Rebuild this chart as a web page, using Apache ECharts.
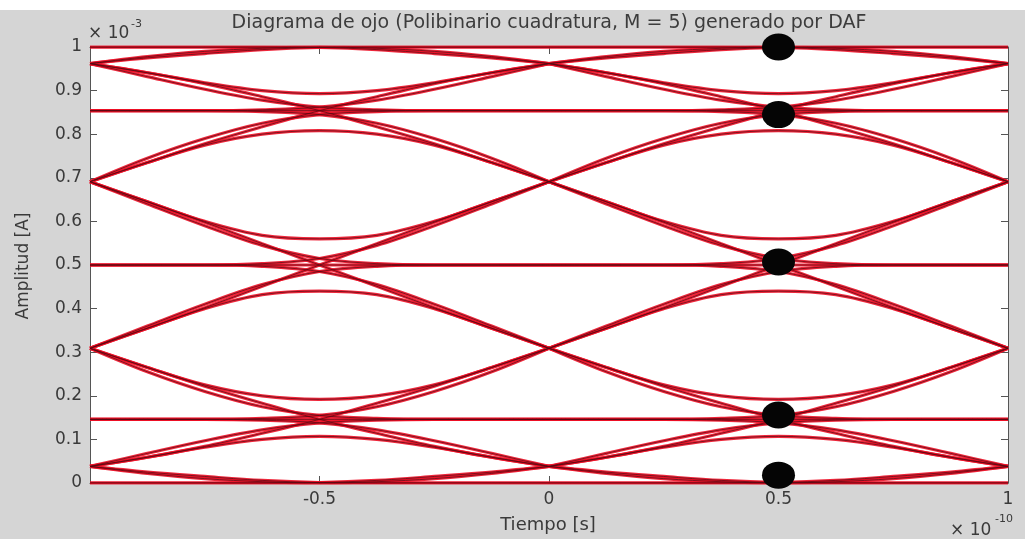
<!DOCTYPE html>
<html>
<head>
<meta charset="utf-8">
<script src="https://cdn.jsdelivr.net/npm/echarts@6/dist/echarts.min.js"></script>
<style>
html,body{margin:0;padding:0;background:#d5d5d5;}
#chart{width:1025px;height:539px;}
</style>
</head>
<body>
<div id="chart"></div>
<script>
// ---- sampling instants (x, in units of 1e-10 s) and offsets of read points inside one symbol window
const sampleTimes = [-0.5, 0.5];
const windowOffsets = [-0.5, -0.375, -0.25, -0.125, 0, 0.125, 0.25, 0.375, 0.5];

// ---- trace shapes read from the eye (amplitude in units of 1e-3 A), one symbol window each
// level 1.0
const lv100Flat  = [1, 1, 1, 1, 1, 1, 1, 1, 1];
const lv100Arc   = [0.962, 0.978, 0.990, 0.997, 1.000, 0.997, 0.990, 0.978, 0.962];
const lv100FallR = [1, 1, 1, 1, 0.999, 0.994, 0.985, 0.975, 0.962];
const lv100RiseL = [0.962, 0.975, 0.985, 0.994, 0.999, 1, 1, 1, 1];
// level 0.85
const lv085Flat     = [0.854, 0.854, 0.854, 0.854, 0.854, 0.854, 0.854, 0.854, 0.854];
const lv085Down     = [0.962, 0.941, 0.916, 0.886, 0.854, 0.817, 0.778, 0.735, 0.691];
const lv085Up       = [0.691, 0.735, 0.778, 0.817, 0.854, 0.886, 0.916, 0.941, 0.962];
const lv085Dome     = [0.691, 0.735, 0.775, 0.800, 0.808, 0.800, 0.775, 0.735, 0.691];
const lv085Bowl     = [0.962, 0.941, 0.918, 0.900, 0.893, 0.900, 0.918, 0.941, 0.962];
const lv085FlatDown = [0.854, 0.854, 0.854, 0.852, 0.845, 0.825, 0.790, 0.745, 0.691];
const lv085FlatUp   = [0.854, 0.854, 0.854, 0.856, 0.862, 0.878, 0.903, 0.932, 0.962];
const lv085DownFlat = [0.962, 0.932, 0.903, 0.878, 0.862, 0.856, 0.854, 0.854, 0.854];
const lv085UpFlat   = [0.691, 0.745, 0.790, 0.825, 0.845, 0.852, 0.854, 0.854, 0.854];
// level 0.5
const lv050Flat     = [0.5, 0.5, 0.5, 0.5, 0.5, 0.5, 0.5, 0.5, 0.5];
const lv050Down     = [0.691, 0.645, 0.598, 0.549, 0.500, 0.451, 0.402, 0.355, 0.309];
const lv050Up       = [0.309, 0.355, 0.402, 0.451, 0.500, 0.549, 0.598, 0.645, 0.691];
const lv050Bowl     = [0.691, 0.645, 0.600, 0.568, 0.560, 0.568, 0.600, 0.645, 0.691];
const lv050Dome     = [0.309, 0.355, 0.400, 0.432, 0.440, 0.432, 0.400, 0.355, 0.309];
const lv050FlatUp   = [0.5, 0.5, 0.5, 0.503, 0.515, 0.545, 0.590, 0.640, 0.691];
const lv050FlatDown = [0.5, 0.5, 0.5, 0.497, 0.485, 0.455, 0.410, 0.360, 0.309];
const lv050DownFlat = [0.691, 0.640, 0.590, 0.545, 0.515, 0.503, 0.5, 0.5, 0.5];
const lv050UpFlat   = [0.309, 0.360, 0.410, 0.455, 0.485, 0.497, 0.5, 0.5, 0.5];
// level 0.15
const lv015Flat     = [0.146, 0.146, 0.146, 0.146, 0.146, 0.146, 0.146, 0.146, 0.146];
const lv015Down     = [0.309, 0.265, 0.222, 0.183, 0.146, 0.114, 0.084, 0.059, 0.038];
const lv015Up       = [0.038, 0.059, 0.084, 0.114, 0.146, 0.183, 0.222, 0.265, 0.309];
const lv015Bowl     = [0.309, 0.265, 0.225, 0.200, 0.192, 0.200, 0.225, 0.265, 0.309];
const lv015Dome     = [0.038, 0.059, 0.082, 0.100, 0.107, 0.100, 0.082, 0.059, 0.038];
const lv015FlatDown = [0.146, 0.146, 0.146, 0.144, 0.138, 0.122, 0.097, 0.068, 0.038];
const lv015FlatUp   = [0.146, 0.146, 0.146, 0.148, 0.155, 0.175, 0.210, 0.255, 0.309];
const lv015DownFlat = [0.309, 0.255, 0.210, 0.175, 0.155, 0.148, 0.146, 0.146, 0.146];
const lv015UpFlat   = [0.038, 0.068, 0.097, 0.122, 0.138, 0.144, 0.146, 0.146, 0.146];
// level 0
const lv000Flat  = [0, 0, 0, 0, 0, 0, 0, 0, 0];
const lv000Arc   = [0.038, 0.022, 0.010, 0.003, 0.000, 0.003, 0.010, 0.022, 0.038];
const lv000RiseR = [0, 0, 0, 0, 0.001, 0.006, 0.015, 0.025, 0.038];
const lv000FallL = [0.038, 0.025, 0.015, 0.006, 0.001, 0, 0, 0, 0];

const traceShapes = [
  lv100Flat, lv100Arc, lv100FallR, lv100RiseL,
  lv085Flat, lv085Down, lv085Up, lv085Dome, lv085Bowl, lv085FlatDown, lv085FlatUp, lv085DownFlat, lv085UpFlat,
  lv050Flat, lv050Down, lv050Up, lv050Bowl, lv050Dome, lv050FlatUp, lv050FlatDown, lv050DownFlat, lv050UpFlat,
  lv015Flat, lv015Down, lv015Up, lv015Bowl, lv015Dome, lv015FlatDown, lv015FlatUp, lv015DownFlat, lv015UpFlat,
  lv000Flat, lv000Arc, lv000RiseR, lv000FallL
];

// ---- sampling markers (black dots at t = 0.5e-10 s)
const markerTimes  = [0.5, 0.5, 0.5, 0.5, 0.5];
const markerValues = [1.0, 0.845, 0.507, 0.156, 0.018];

// ---- tick labels
const xTickValues = [-1, -0.5, 0, 0.5, 1];
const yTickValues = [0, 0.1, 0.2, 0.3, 0.4, 0.5, 0.6, 0.7, 0.8, 0.9, 1];

const FONT = 'DejaVu Sans';
const chart = echarts.init(document.getElementById('chart'), null, {renderer: 'canvas'});

const series = [];
traceShapes.forEach(function (shape) {
  sampleTimes.forEach(function (s) {
    const data = windowOffsets.map(function (o, i) { return [s + o, shape[i]]; });
    series.push({
      type: 'line', data: data, smooth: 0.35, symbol: 'none', z: 2, silent: true,
      lineStyle: {color: '#ec1026', width: 3.2, opacity: 0.9}
    });
    series.push({
      type: 'line', data: data, smooth: 0.35, symbol: 'none', z: 3, silent: true,
      lineStyle: {color: '#540a12', width: 0.8, opacity: 0.9}
    });
  });
});
series.push({
  type: 'scatter', z: 6, clip: false, silent: true,
  data: markerTimes.map(function (t, i) { return [t, markerValues[i]]; }),
  symbol: 'circle', symbolSize: [33, 27],
  itemStyle: {color: '#050505', opacity: 1}
});

const axisLineStyle = {color: '#555555', width: 1};
const labelStyle = {color: '#3a3a3a', fontSize: 17, fontFamily: FONT};

chart.setOption({
  animation: false,
  backgroundColor: '#d5d5d5',
  grid: {left: 90, right: 17, top: 47, bottom: 56, show: true, backgroundColor: '#ffffff', borderWidth: 0},
  xAxis: [{
    type: 'value', min: -1, max: 1, interval: 0.5, position: 'bottom',
    axisLine: {show: true, onZero: false, lineStyle: axisLineStyle},
    axisTick: {show: true, inside: true, length: 7, lineStyle: axisLineStyle},
    splitLine: {show: false},
    axisLabel: Object.assign({margin: 8, formatter: function (v) {
      if (v === xTickValues[0]) return '';
      return String(v);
    }}, labelStyle)
  }, {
    type: 'value', min: -1, max: 1, interval: 0.5, position: 'top',
    axisLine: {show: true, onZero: false, lineStyle: axisLineStyle},
    axisTick: {show: true, inside: true, length: 7, lineStyle: axisLineStyle},
    splitLine: {show: false}, axisLabel: {show: false}
  }],
  yAxis: [{
    type: 'value', min: 0, max: 1, interval: 0.1, position: 'left',
    axisLine: {show: true, onZero: false, lineStyle: axisLineStyle},
    axisTick: {show: true, inside: true, length: 7, lineStyle: axisLineStyle},
    splitLine: {show: false},
    axisLabel: Object.assign({margin: 8, formatter: function (v) {
      const t = yTickValues.find(function (y) { return Math.abs(y - v) < 1e-9; });
      return t === undefined ? '' : String(t);
    }}, labelStyle)
  }, {
    type: 'value', min: 0, max: 1, interval: 0.1, position: 'right',
    axisLine: {show: true, onZero: false, lineStyle: axisLineStyle},
    axisTick: {show: true, inside: true, length: 7, lineStyle: axisLineStyle},
    splitLine: {show: false}, axisLabel: {show: false}
  }],
  series: series,
  graphic: [
    {type: 'rect', left: 0, top: 0, shape: {width: 1025, height: 10}, style: {fill: '#ffffff'}, z: 10},
    {type: 'text', x: 549, y: 23, z: 10, style: {text: 'Diagrama de ojo (Polibinario cuadratura, M = 5) generado por DAF',
      fontFamily: FONT, fontSize: 19, fill: '#3c3c3c', align: 'center', verticalAlign: 'middle'}},
    {type: 'text', x: 88, y: 34, z: 10, style: {text: '× 10', fontFamily: FONT, fontSize: 17, fill: '#3a3a3a', align: 'left', verticalAlign: 'middle'}},
    {type: 'text', x: 131, y: 24, z: 10, style: {text: '-3', fontFamily: FONT, fontSize: 11, fill: '#3a3a3a', align: 'left', verticalAlign: 'middle'}},
    {type: 'text', x: 950, y: 531, z: 10, style: {text: '× 10', fontFamily: FONT, fontSize: 17, fill: '#3a3a3a', align: 'left', verticalAlign: 'middle'}},
    {type: 'text', x: 995, y: 519, z: 10, style: {text: '-10', fontFamily: FONT, fontSize: 11, fill: '#3a3a3a', align: 'left', verticalAlign: 'middle'}},
    {type: 'text', x: 548, y: 525, z: 10, style: {text: 'Tiempo [s]', fontFamily: FONT, fontSize: 18, fill: '#3a3a3a', align: 'center', verticalAlign: 'middle'}},
    {type: 'text', x: 24, y: 266, rotation: Math.PI / 2, z: 10, style: {text: 'Amplitud [A]', fontFamily: FONT, fontSize: 17, fill: '#3a3a3a', align: 'center', verticalAlign: 'middle'}}
  ]
});
</script>
</body>
</html>
